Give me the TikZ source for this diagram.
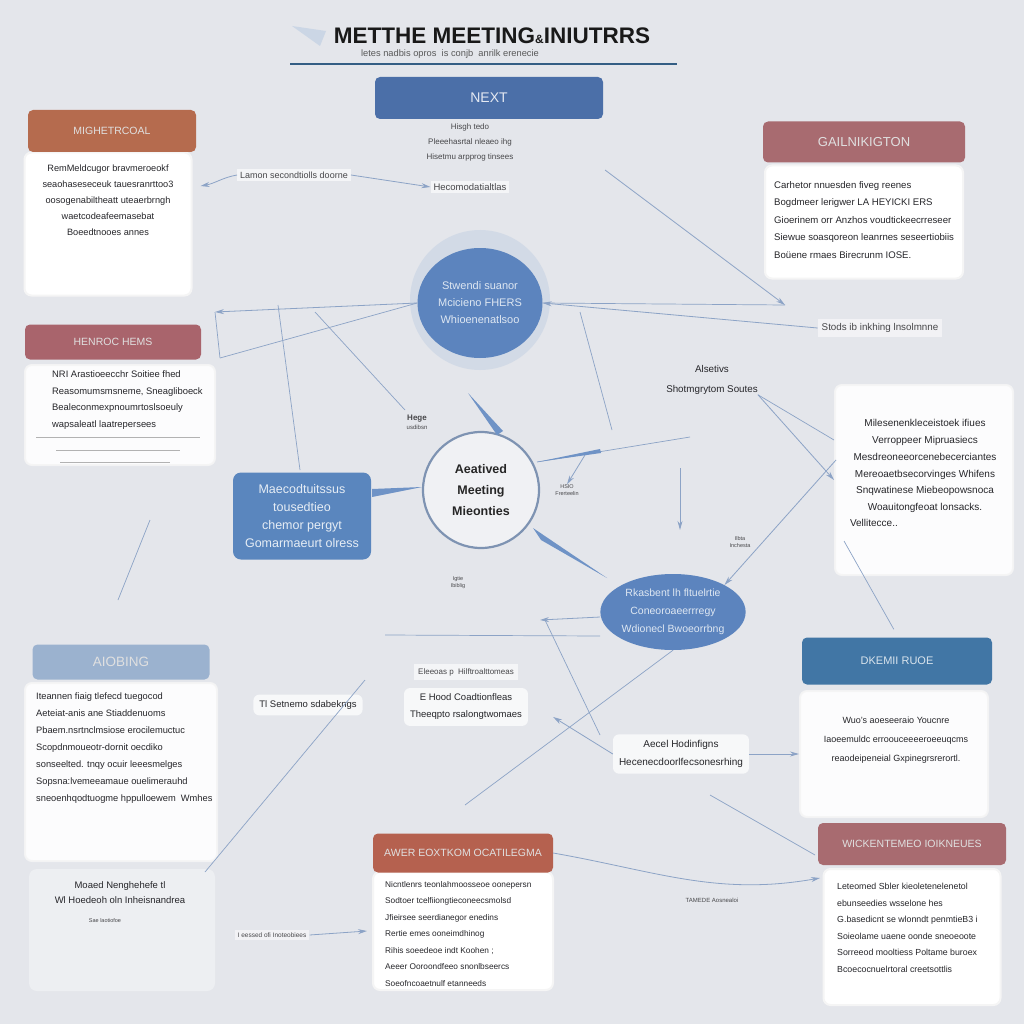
\documentclass[tikz,border=0pt]{standalone}
\usepackage{fontspec}
\setmainfont{Liberation Sans}
\usetikzlibrary{shapes.geometric,arrows.meta,calc}
\definecolor{bg}{HTML}{E4E6EB}
\definecolor{hbrown}{HTML}{B56B4E}
\definecolor{hrose}{HTML}{A86B70}
\definecolor{hrose2}{HTML}{A9646C}
\definecolor{hlight}{HTML}{9BB2CF}
\definecolor{hblue}{HTML}{4176A5}
\definecolor{hred}{HTML}{B5614F}
\definecolor{nblue}{HTML}{4B6FA8}
\definecolor{boxblue}{HTML}{5A86BE}
\definecolor{ellblue}{HTML}{5C84BE}
\definecolor{lineblue}{HTML}{8CA3C6}
\definecolor{wedgeblue}{HTML}{6F93C6}
\definecolor{ink}{HTML}{26262A}
\tikzset{
  hdr/.style={rounded corners=5, inner sep=0, font=\fontsize{10.5}{12}\selectfont, text=white!88!black},
  paper/.style={fill=white, draw=white!92!gray, line width=2, rounded corners=7, inner sep=0},
  txt/.style={font=\fontsize{9.2}{16}\selectfont, text=ink, inner sep=0},
  small/.style={font=\fontsize{8}{11}\selectfont, text=ink!85, inner sep=0},
  conn/.style={draw=lineblue, line width=0.8, -{Stealth[length=9,width=5]}},
  plain/.style={draw=lineblue, line width=0.7},
  wedge/.style={fill=wedgeblue, draw=none},
}
\begin{document}
\begin{tikzpicture}[x=1pt,y=-1pt]
\fill[bg] (0,0) rectangle (1024,1024);
\useasboundingbox (0,0) rectangle (1024,1024);

% ---- title ----
\fill[lineblue!45] (292,26) -- (326,31) -- (320,46) -- cycle;
\node[font=\fontsize{22.5}{24}\selectfont\bfseries, text=black!90, inner sep=0] (title) at (492,36) {METTHE MEETING{\fontsize{12}{12}\selectfont\&}INIUTRRS};
\node[font=\fontsize{9.3}{10}\selectfont, text=black!65, inner sep=0] (sub) at (450,54) {letes nadbis opros\ \ is conjb\ \ anrilk erenecie};
\coordinate (rl) at (290,64);
\coordinate (rr) at (677,64);
\draw[draw=hblue!80!black, line width=1.4] (rl) -- (rr);

% ---- NEXT ----
\node[hdr, fill=nblue, minimum width=228, minimum height=42, font=\fontsize{14}{16}\selectfont, text=white!85!nblue] (next) at (489,98) {NEXT};
\node[small, align=left] (nx1) at (470,127) {Hisgh tedo};
\node[small, align=left] (nx2) at (470,142) {Pleeehasrtal nleaeo ihg};
\node[small, align=left] (nx3) at (470,157) {Hisetmu arpprog tinsees};
\node[small, fill=white!60!bg, inner sep=3, font=\fontsize{9.5}{11}\selectfont] (nx4) at (470,187) {Hecomodatialtlas};
\node[small, fill=white!60!bg, inner sep=3, font=\fontsize{9}{11}\selectfont] (lam) at (294,175) {Lamon secondtiolls doorne};

% ---- top-left card ----
\node[paper, minimum width=167, minimum height=143] (p1) at (108,224) {};
\node[hdr, fill=hbrown, minimum width=168, minimum height=42] (h1) at (112,131) {MIGHETRCOAL};
\node[txt, align=center] (t1) at (108,200) {RemMeldcugor bravmeroeokf\\seaohaseseceuk tauesranrttoo3\\oosogenabiltheatt uteaerbrngh\\waetcodeafeemasebat\\Boeedtnooes annes};

% ---- top-right card ----
\node[paper, minimum width=198, minimum height=113] (p2) at (864,222) {};
\node[hdr, fill=hrose, minimum width=202, minimum height=41, font=\fontsize{13}{14}\selectfont] (h2) at (864,142) {GAILNIKIGTON};
\node[txt, align=left, anchor=west, font=\fontsize{9.6}{17.5}\selectfont] (t2) at (774,220) {Carhetor nnuesden fiveg reenes\\Bogdmeer lerigwer LA HEYICKI ERS\\Gioerinem orr Anzhos voudtickeecrreseer\\Siewue soasqoreon leanrnes seseertiobiis\\Boüene rmaes Birecrunm IOSE.};

% ---- middle-left card ----
\node[paper, minimum width=190, minimum height=100, opacity=0.9] (p3) at (120,415) {};
\node[hdr, fill=hrose2, minimum width=176, minimum height=35] (h3) at (113,342) {HENROC HEMS};
\node[txt, align=left, anchor=west, font=\fontsize{9.4}{16.5}\selectfont] (t3) at (52,400) {NRI Arastioeecchr Soitiee fhed\\Reasomumsmsneme, Sneagliboeck\\Bealeconmexpnoumrtoslsoeuly\\wapsaleatl laatrepersees};
\draw[plain, draw=black!30] (36,437) -- (200,437) (56,450) -- (180,450) (60,462) -- (170,462);

% ---- top ellipse ----
\node[circle, fill=lineblue!45, minimum size=140, inner sep=0, opacity=0.7] (glow) at (480,300) {};
\node[ellipse, fill=ellblue, minimum width=125, minimum height=110, inner sep=0, font=\fontsize{11}{17}\selectfont, text=white!80!ellblue, align=center] (e1) at (480,303) {Stwendi suanor\\Mcicieno FHERS\\Whioenenatlsoo};

% ---- centre circle ----
\node[circle, fill=white!45!bg, draw=lineblue!90!black, line width=2.2, minimum size=116, inner sep=0, align=center, font=\fontsize{12.5}{21}\selectfont\bfseries, text=black!85] (c) at (481,490) {Aeatived\\Meeting\\Mieonties};

% ---- left blue box ----
\node[fill=boxblue, rounded corners=8, minimum width=138, minimum height=87, inner sep=0, align=center, font=\fontsize{12.5}{18}\selectfont, text=white!85!boxblue] (lb) at (302,516) {Maecodtuitssus\\tousedtieo\\chemor pergyt\\Gomarmaeurt olress};

% ---- bottom ellipse ----
\node[ellipse, fill=ellblue, minimum width=142, minimum height=76, inner sep=0, align=center, font=\fontsize{10.5}{18}\selectfont, text=white!80!ellblue] (e2) at (673,612) {Rkasbent lh fltuelrtie\\Coneoroaeerrregy\\Wdionecl Bwoeorrbng};

% ---- labels ----
\node[small, align=center] (hege) at (417,422) {\textbf{Hege}\\[-2pt]{\fontsize{6}{7}\selectfont usdibsn}};
\node[small, align=center, font=\fontsize{5.5}{7}\selectfont] (hsio) at (567,490) {HSIO\\Frerteelin};
\node[small, align=center, font=\fontsize{5.5}{7}\selectfont] (ilbta) at (740,542) {Ilbta\\Inchesta};
\node[small, align=center, font=\fontsize{5.5}{7}\selectfont] (igtie) at (458,583) {Igtie\\Ibiblig};
\node[font=\fontsize{9.8}{20}\selectfont, align=center, text=ink, inner sep=0] (als) at (712,380) {Alsetivs\\Shotmgrytom Soutes};
\node[small, fill=white!50!bg, inner sep=4, font=\fontsize{9.8}{11}\selectfont] (stods) at (880,328) {Stods ib inkhing lnsolmnne};

% ---- right card ----
\node[paper, minimum width=178, minimum height=190, opacity=0.9] (p4) at (924,480) {};
\node[txt, align=center, font=\fontsize{10}{16.8}\selectfont] (t4) at (925,473) {Milesenenkleceistoek ifiues\\Verroppeer Mipruasiecs\\Mesdreoneeorcenebecerciantes\\Mereoaetbsecorvinges Whifens\\Snqwatinese Miebeopowsnoca\\Woauitongfeoat lonsacks.\\[-1pt]\makebox[150pt][l]{Vellitecce..}};

% ---- bottom-left card ----
\node[hdr, fill=hlight, minimum width=177, minimum height=35, font=\fontsize{13.5}{15}\selectfont] (h5) at (121,662) {AIOBING};
\node[paper, minimum width=192, minimum height=178, opacity=0.9] (p5) at (121,772) {};
\node[txt, align=left, anchor=west, font=\fontsize{9.3}{17}\selectfont] (t5) at (36,748) {Iteannen fiaig tlefecd tuegocod\\Aeteiat-anis ane Stiaddenuoms\\Pbaem.nsrtnclmsiose erocilemuctuc\\Scopdnmoueotr-dornit oecdiko\\sonseelted. tnqy ocuir leeesmelges\\Sopsna:lvemeeamaue ouelimerauhd\\sneoenhqodtuogme hppulloewem\ \ Wmhes};

% ---- bottom-left lower box ----
\node[fill=white!35!bg, rounded corners=8, minimum width=186, minimum height=122, inner sep=0] (p6) at (122,930) {};
\node[txt, align=center, font=\fontsize{9.5}{15}\selectfont] (t6) at (120,893) {Moaed Nenghehefe tl\\Wl Hoedeoh oln Inheisnandrea};
\node[small, font=\fontsize{5.5}{7}\selectfont] (t6b) at (105,921) {Sae laotiofoe};

% ---- right-bottom card ----
\node[hdr, fill=hblue, minimum width=190, minimum height=47, font=\fontsize{11}{13}\selectfont, text=white!80!hblue] (h7) at (897,661) {DKEMII RUOE};
\node[paper, minimum width=188, minimum height=126, opacity=0.9] (p7) at (894,754) {};
\node[txt, align=center, font=\fontsize{9}{19}\selectfont] (t7) at (896,740) {Wuo's aoeseeraio Youcnre\\Iaoeemuldc erroouceeeeroeeuqcms\\reaodeipeneial Gxpinegrsrerortl.};

% ---- bottom-centre card ----
\node[paper, minimum width=180, minimum height=118] (p8) at (463,931) {};
\node[hdr, fill=hred, minimum width=180, minimum height=39] (h8) at (463,853) {AWER EOXTKOM OCATILEGMA};
\node[txt, align=left, anchor=west, font=\fontsize{8.3}{16.5}\selectfont] (t8) at (385,934) {Nicntlenrs teonlahmoosseoe oonepersn\\Sodtoer tcelfiiongtieconeecsmolsd\\Jfieirsee seerdianegor enedins\\Rertie emes ooneimdhinog\\Rihis soeedeoe indt Koohen ;\\Aeeer Ooroondfeeo snonlbseercs\\Soeofncoaetnulf etanneeds};

% ---- bottom-right card ----
\node[paper, minimum width=177, minimum height=136] (p9) at (912,937) {};
\node[hdr, fill=hrose, minimum width=188, minimum height=42] (h9) at (912,844) {WICKENTEMEO IOIKNEUES};
\node[txt, align=left, anchor=west, font=\fontsize{8.8}{16.5}\selectfont] (t9) at (837,928) {Leteomed Sbler kieoletenelenetol\\ebunseedies wsselone hes\\G.basedicnt se wlonndt penmtieB3 i\\Soieolame uaene oonde sneoeoote\\Sorreeod mooltiess Poltame buroex\\Bcoecocnuelrtoral creetsottlis};

% ---- floating labels with patches ----
\node[small, fill=white!60!bg, inner sep=4, align=center, font=\fontsize{8}{10}\selectfont] (el) at (466,672) {Eleeoas p\ \ Hilftroalttomeas};
\node[txt, fill=white!70!bg, inner sep=6, rounded corners=6, font=\fontsize{9.5}{11}\selectfont] (tl) at (308,705) {Tl Setnemo sdabekngs};
\node[txt, fill=white!70!bg, inner sep=6, rounded corners=6, align=center, font=\fontsize{9.5}{17}\selectfont] (eh) at (466,707) {E Hood Coadtionfleas\\Theeqpto rsalongtwomaes};
\node[txt, fill=white!70!bg, inner sep=6, rounded corners=6, align=center, font=\fontsize{10}{18}\selectfont] (ae) at (681,754) {Aecel Hodinfigns\\Hecenecdoorlfecsonesrhing};
\node[small, font=\fontsize{6.5}{7}\selectfont, fill=white!50!bg, inner sep=3] (ie) at (272,935) {I eessed ofi Inoteobiees};
\node[small, font=\fontsize{6}{7}\selectfont] (tam) at (712,900) {TAMEDE Aosnealoi};

% ---- connector coordinates ----
\coordinate (k1) at (690,437);
\coordinate (k2) at (215,312);
\coordinate (k3) at (220,358);
\coordinate (k4) at (605,170);
\coordinate (k5) at (365,680);
\coordinate (k6) at (205,872);
\coordinate (k7) at (545,620);
\coordinate (k8) at (600,735);
\coordinate (k9) at (465,805);
\coordinate (k10) at (710,795);
\coordinate (k11) at (815,855);
\coordinate (k12) at (820,878);
\coordinate (k13) at (680,468);
\coordinate (k14) at (680,530);
\coordinate (k15) at (580,312);
\coordinate (k16) at (612,430);
\coordinate (k17) at (278,305);
\coordinate (k18) at (300,470);
\coordinate (k19) at (315,312);
\coordinate (k20) at (405,410);
\coordinate (k21) at (118,600);
\coordinate (k22) at (150,520);
\coordinate (k23) at (785,305);
\coordinate (k24) at (385,635);
\coordinate (k25) at (600,636);
\coordinate (k26) at (585,455);
\coordinate (k27) at (540,620);
\coordinate (w1) at (537,462);

% ---- connectors ----
\draw[conn] (lam.east) -- (nx4.west);
\draw[conn] (lam.west) to[out=190,in=10] ($(p1.east)+(8,-38)$);
\draw[conn] (e1.west) -- (k2);
\draw[plain] (e1.west) -- (k3);
\draw[plain] (k2) -- (k3);
\draw[conn] (stods.west) -- (e1.east);
\draw[plain] (e1.east) -- (k23);
\draw[conn] (k4) -- (k23);
\draw[plain] (k17) -- (k18);
\draw[plain] (k19) -- (k20);
\draw[plain] (k1) -- (w1);
\draw[conn] (k13) -- (k14);
\draw[plain] (k15) -- (k16);
\draw[conn] (als.south east) -- (p4.west);
\draw[plain] (als.south east) -- ($(p4.west)+(0,-40)$);
\draw[conn] ($(p4.west)+(2,-20)$) -- (e2.north east);
\draw[plain] ($(p4.south west)+(10,-35)$) -- ($(h7.north west)+(92,-8)$);
\draw[plain] (e2.south) -- (k9);
\draw[plain] (k5) -- (k6);
\draw[plain] (k7) -- (k8);
\draw[conn] (ae.east) -- (p7.west);
\draw[conn] (ae.west) -- ($(eh.east)+(25,10)$);
\draw[plain] (k10) -- (k11);
\draw[conn] (h8.east) to[out=-10,in=190] (k12);
\draw[conn] (ie.east) -- ($(p8.west)+(-5,0)$);
\draw[plain] (k21) -- (k22);
\draw[plain] (k24) -- (k25);
\draw[conn] (e2.west) ++(0,5) -- (k27);
\draw[conn] (k26) -- (hsio.north);

% ---- tapered wedges ----
\fill[wedge] (468,393) -- (503,431) -- (497,435) -- cycle;
\fill[wedge] (w1) -- (600,449) -- (601,453) -- cycle;
\fill[wedge] (533,528) -- (607,578) -- (541,540) -- cycle;
\fill[wedge] (372,489) -- (422,487) -- (372,497) -- cycle;
\end{tikzpicture}
\end{document}
